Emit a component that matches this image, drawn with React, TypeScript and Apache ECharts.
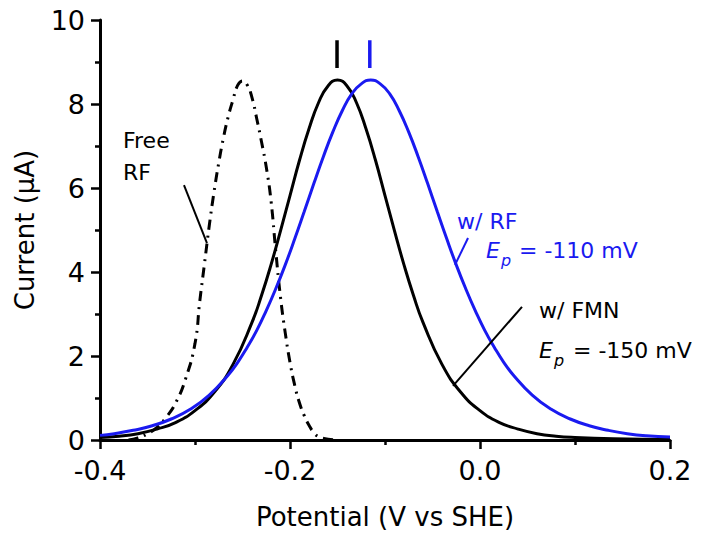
import React, { useEffect, useRef } from "react";
import * as echarts from "echarts";

// Potential (V vs SHE) / Current (µA) values
const fmnX = [-0.40, -0.38, -0.36, -0.34, -0.32, -0.30, -0.28, -0.26, -0.24, -0.23, -0.22, -0.21, -0.20, -0.19, -0.18, -0.17, -0.16, -0.15, -0.14, -0.13, -0.12, -0.11, -0.10, -0.09, -0.08, -0.07, -0.06, -0.04, -0.02, 0.00, 0.02, 0.04, 0.06, 0.08, 0.10, 0.14, 0.20];
const fmnY = [0.06, 0.09, 0.15, 0.26, 0.42, 0.70, 1.13, 1.80, 2.80, 3.44, 4.17, 4.98, 5.82, 6.66, 7.41, 8.03, 8.43, 8.57, 8.43, 8.03, 7.41, 6.66, 5.82, 4.98, 4.17, 3.44, 2.80, 1.80, 1.13, 0.70, 0.42, 0.26, 0.15, 0.09, 0.06, 0.03, 0.01];

const rfX = [-0.40, -0.385, -0.365, -0.345, -0.325, -0.305, -0.285, -0.265, -0.255, -0.245, -0.235, -0.225, -0.215, -0.205, -0.195, -0.185, -0.175, -0.165, -0.155, -0.145, -0.135, -0.125, -0.115, -0.105, -0.095, -0.085, -0.075, -0.065, -0.055, -0.045, -0.035, -0.025, -0.015, -0.005, 0.005, 0.015, 0.025, 0.035, 0.055, 0.075, 0.095, 0.115, 0.135, 0.155, 0.175, 0.20];
const rfY = [0.11, 0.15, 0.23, 0.34, 0.50, 0.73, 1.07, 1.55, 1.85, 2.21, 2.61, 3.08, 3.60, 4.17, 4.79, 5.44, 6.10, 6.74, 7.33, 7.84, 8.24, 8.48, 8.57, 8.48, 8.24, 7.84, 7.33, 6.74, 6.10, 5.44, 4.79, 4.17, 3.60, 3.08, 2.61, 2.21, 1.85, 1.55, 1.07, 0.73, 0.50, 0.34, 0.23, 0.15, 0.10, 0.07];

const freeX = [-0.37, -0.36, -0.35, -0.34, -0.33, -0.32, -0.31, -0.30, -0.295, -0.29, -0.285, -0.28, -0.275, -0.27, -0.265, -0.26, -0.255, -0.25, -0.245, -0.24, -0.235, -0.23, -0.225, -0.22, -0.215, -0.21, -0.205, -0.20, -0.195, -0.19, -0.185, -0.18, -0.175, -0.17, -0.16, -0.15];
const freeY = [0.0, 0.05, 0.15, 0.3, 0.55, 0.9, 1.45, 2.3, 3.3, 4.2, 5.1, 5.9, 6.6, 7.2, 7.7, 8.1, 8.45, 8.55, 8.45, 8.15, 7.65, 7.1, 6.5, 5.7, 4.5, 3.4, 2.55, 1.85, 1.3, 0.88, 0.58, 0.35, 0.18, 0.08, 0.02, 0.0];

// peak position markers
const fmnPeakMarkX = [-0.1505, -0.1505];
const rfPeakMarkX = [-0.116, -0.116];
const peakMarkY = [8.86, 9.52];

// annotation pointer lines
const freePointerX = [-0.3116, -0.2874];
const freePointerY = [6.07, 4.69];
const rfPointerX = [-0.0126, -0.0263];
const rfPointerY = [4.81, 4.17];
const fmnPointerX = [0.0442, -0.0284];
const fmnPointerY = [3.17, 1.29];

const X_MIN = -0.4;
const X_MAX = 0.2;
const X_STEP = 0.2;
const Y_MIN = 0;
const Y_MAX = 10;
const Y_STEP = 2;

const BLUE = "#1a1af0";
const FONT = "'DejaVu Sans', sans-serif";

const zip = (xs: number[], ys: number[]) => xs.map((x, i) => [x, ys[i]]);

export default function App() {
  const ref = useRef<HTMLDivElement>(null);

  useEffect(() => {
    if (!ref.current) return;
    const chart = echarts.init(ref.current, undefined, { renderer: "svg" });

    const axisCommon = {
      type: "value" as const,
      axisLine: { show: true, onZero: false, lineStyle: { color: "#000", width: 3 } },
      axisTick: { show: true, inside: false, length: 9, lineStyle: { color: "#000", width: 2.5 } },
      minorTick: { show: true, splitNumber: 2, length: 5, lineStyle: { color: "#000", width: 2.5 } },
      splitLine: { show: false },
      minorSplitLine: { show: false },
      nameLocation: "middle" as const,
      nameTextStyle: { fontFamily: FONT, fontSize: 26, color: "#000" },
    };

    const lineSeries = (name: string, data: number[][], color: string, type: any, width = 3, smooth: number | boolean = 0.5) => ({
      name,
      type: "line" as const,
      data,
      showSymbol: false,
      symbol: "none",
      smooth,
      lineStyle: { color, width, type },
      z: 3,
    });

    const txt = (text: string, x: number, y: number, color: string, size = 22, italic = false) => ({
      type: "text",
      x,
      y,
      style: {
        text,
        fill: color,
        font: `${italic ? "italic " : ""}${size}px ${FONT}`,
        fontFamily: FONT,
        fontSize: size,
        fontStyle: italic ? "italic" : "normal",
        verticalAlign: "middle",
        align: "left",
      },
    });

    chart.setOption({
      animation: false,
      grid: { left: 100, right: 35, top: 20, bottom: 109, containLabel: false },
      xAxis: {
        ...axisCommon,
        min: X_MIN,
        max: X_MAX,
        interval: X_STEP,
        name: "Potential (V vs SHE)",
        nameGap: 64,
        axisLabel: {
          fontFamily: FONT,
          fontSize: 27,
          color: "#000",
          margin: 17,
          formatter: (v: number) => (Math.abs(v) < 1e-9 ? "0.0" : v.toFixed(1)),
        },
      },
      yAxis: {
        ...axisCommon,
        min: Y_MIN,
        max: Y_MAX,
        interval: Y_STEP,
        name: "Current (\u03bcA)",
        nameGap: 62,
        axisLabel: {
          fontFamily: FONT,
          fontSize: 27,
          color: "#000",
          margin: 15,
          formatter: (v: number) => String(Math.round(v)),
        },
      },
      series: [
        lineSeries("Free RF", zip(freeX, freeY), "#000", [10, 6, 2, 6], 3),
        lineSeries("w/ FMN", zip(fmnX, fmnY), "#000", "solid", 3),
        lineSeries("w/ RF", zip(rfX, rfY), BLUE, "solid", 3),
        lineSeries("fmnPeak", zip(fmnPeakMarkX, peakMarkY), "#000", "solid", 3.5, false),
        lineSeries("rfPeak", zip(rfPeakMarkX, peakMarkY), BLUE, "solid", 3.5, false),
        lineSeries("freePointer", zip(freePointerX, freePointerY), "#000", "solid", 2, false),
        lineSeries("rfPointer", zip(rfPointerX, rfPointerY), BLUE, "solid", 2, false),
        lineSeries("fmnPointer", zip(fmnPointerX, fmnPointerY), "#000", "solid", 2, false),
      ],
      graphic: [
        txt("Free", 123, 140, "#000"),
        txt("RF", 123, 172, "#000"),
        txt("w/ RF", 457, 221, BLUE),
        txt("E", 486, 250, BLUE, 22, true),
        txt("p", 501, 260, BLUE, 16, true),
        txt("= -110 mV", 519, 250, BLUE),
        txt("w/ FMN", 539, 310, "#000"),
        txt("E", 539, 350, "#000", 22, true),
        txt("p", 554, 360, "#000", 16, true),
        txt("= -150 mV", 573, 350, "#000"),
      ],
    });

    return () => chart.dispose();
  }, []);

  return (
    <div
      ref={ref}
      style={{ position: "fixed", left: 0, top: 0, width: 705, height: 549, background: "#fff" }}
    />
  );
}
